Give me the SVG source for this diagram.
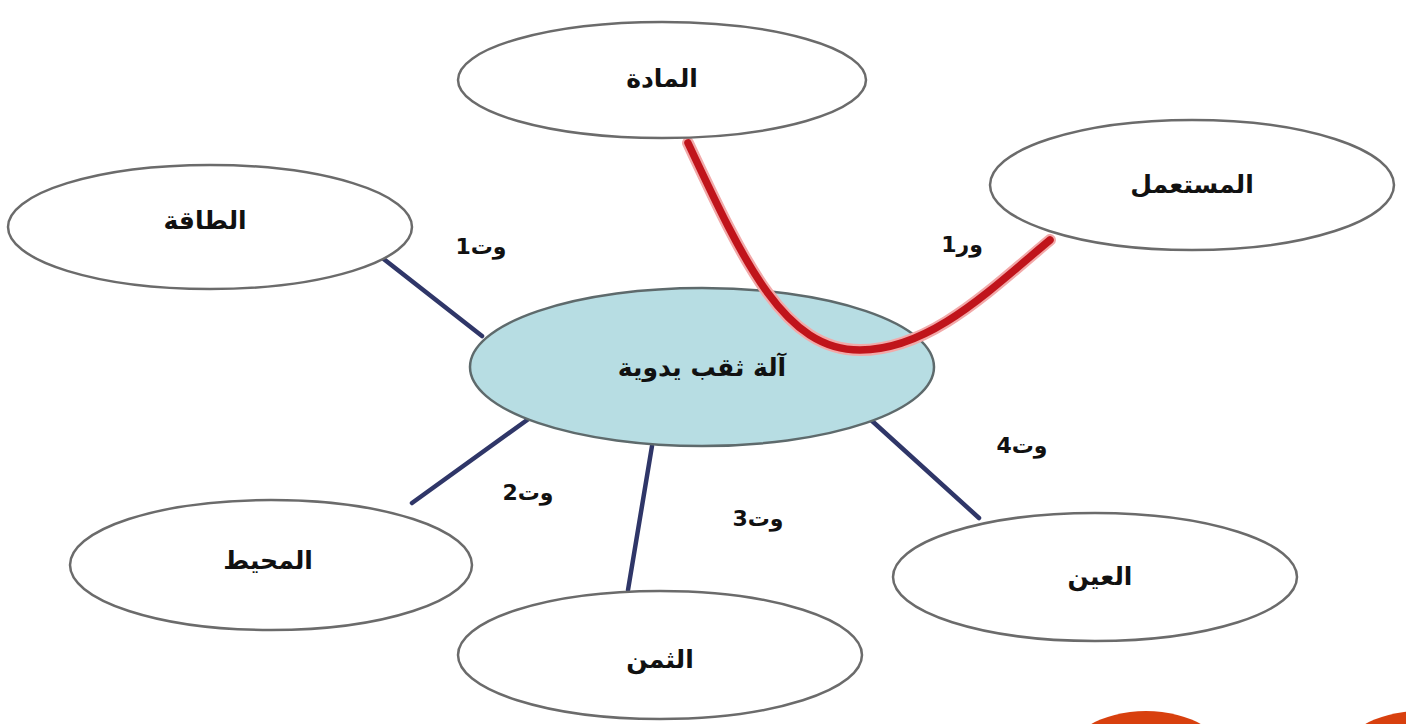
<svg xmlns="http://www.w3.org/2000/svg" width="1406" height="724" viewBox="0 0 1406 724">
<style>
.node{fill:#ffffff;stroke:#6b6b6b;stroke-width:2.5}
.hub{fill:#b7dde3;stroke:#5e6a6c;stroke-width:2.5}
.t{font-family:"DejaVu Sans",sans-serif;font-weight:bold;font-size:25px;fill:#111;text-anchor:middle;dominant-baseline:central}
.lbl{font-family:"DejaVu Sans",sans-serif;font-weight:bold;font-size:22px;fill:#111;text-anchor:middle;dominant-baseline:central}
.link{stroke:#2f3668;stroke-width:4.5;fill:none;stroke-linecap:round}
</style>
<rect width="1406" height="724" fill="#ffffff"/>
<g id="connectors">
<line class="link" x1="376" y1="253" x2="482" y2="336"/>
<line class="link" x1="541" y1="410" x2="412" y2="503"/>
<line class="link" x1="652" y1="446" x2="628" y2="590"/>
<line class="link" x1="860" y1="410" x2="979" y2="518"/>
</g>
<g id="node-hub"><ellipse class="hub" cx="702" cy="367" rx="232" ry="79"/><text class="t" x="702" y="367" font-size="29">آلة ثقب يدوية</text></g>
<g id="red-link">
<path d="M688,143 C745,265 785,350 860,350 C930,350 990,290 1050,240" fill="none" stroke="#f2a9a9" stroke-width="12" stroke-linecap="round"/>
<path d="M688,143 C745,265 785,350 860,350 C930,350 990,290 1050,240" fill="none" stroke="#c0141b" stroke-width="7.5" stroke-linecap="round"/>
</g>
<g id="node-matter"><ellipse class="node" cx="662" cy="80" rx="204" ry="58"/><text class="t" x="662" y="78">المادة</text></g>
<g id="node-user"><ellipse class="node" cx="1192" cy="185" rx="202" ry="65"/><text class="t" x="1192" y="184">المستعمل</text></g>
<g id="node-energy"><ellipse class="node" cx="210" cy="227" rx="202" ry="62"/><text class="t" x="205" y="220">الطاقة</text></g>
<g id="node-env"><ellipse class="node" cx="271" cy="565" rx="201" ry="65"/><text class="t" x="268" y="560">المحيط</text></g>
<g id="node-price"><ellipse class="node" cx="660" cy="655" rx="202" ry="64"/><text class="t" x="660" y="659">الثمن</text></g>
<g id="node-eye"><ellipse class="node" cx="1095" cy="577" rx="202" ry="64"/><text class="t" x="1100" y="576">العين</text></g>
<g id="labels">
<text class="lbl" x="481" y="246">وت1</text>
<text class="lbl" x="962" y="244">ور1</text>
<text class="lbl" x="528" y="492">وت2</text>
<text class="lbl" x="758" y="518">وت3</text>
<text class="lbl" x="1022" y="445">وت4</text>
</g>
<g id="deco">
<ellipse cx="1146" cy="762" rx="82" ry="51" fill="#d8400e"/>
<ellipse cx="1420" cy="762" rx="82" ry="51" fill="#d8400e"/>
</g>
</svg>
